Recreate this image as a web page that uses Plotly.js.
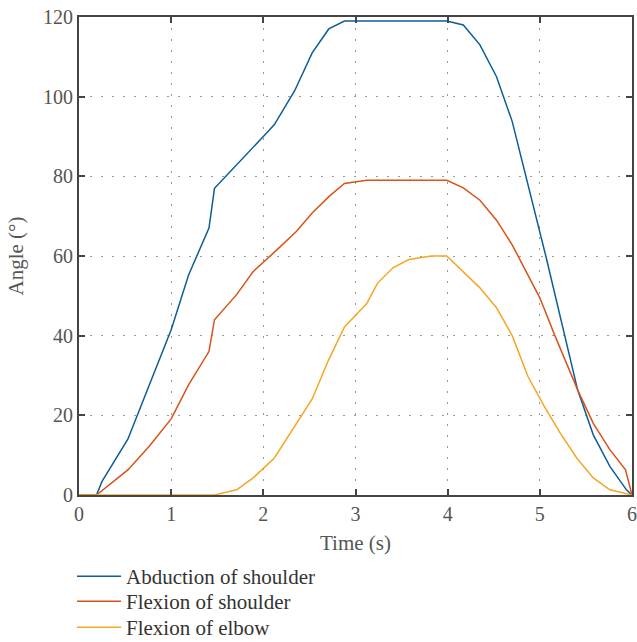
<!DOCTYPE html>
<html>
<head>
<meta charset="utf-8">
<script src="https://cdn.plot.ly/plotly-3.0.1.min.js"></script>
<style>html,body{margin:0;padding:0;background:#fff;}#chart{width:637px;height:642px;}</style>
</head>
<body>
<div id="chart"></div>
<script>
const seriesNames = ["Abduction of shoulder", "Flexion of shoulder", "Flexion of elbow"];

const abdTime = [0, 0.19, 0.25, 0.53, 1.0, 1.19, 1.41, 1.47, 2.0, 2.12, 2.34, 2.53, 2.71, 2.88, 3.99, 4.17, 4.35, 4.53, 4.70, 5.07, 5.41, 5.58, 5.76, 5.94, 6.0];
const abdAngle = [0, 0, 3.4, 14, 41.5, 55.3, 67, 77, 90, 93, 101.5, 111, 117, 119, 119, 118, 113, 105, 93.8, 59.5, 26.4, 15.1, 7.2, 1.3, 0];

const flexShTime = [0, 0.19, 0.53, 0.76, 1.0, 1.19, 1.41, 1.47, 1.71, 1.89, 2.15, 2.36, 2.53, 2.72, 2.88, 3.12, 3.99, 4.17, 4.35, 4.53, 4.70, 5.0, 5.16, 5.41, 5.58, 5.76, 5.93, 6.0];
const flexShAngle = [0, 0, 6.3, 12.2, 19.1, 27.7, 36, 44, 50.3, 56.1, 61.6, 66.2, 70.8, 75.1, 78.2, 79, 79, 77.1, 74, 69, 62.8, 49.5, 40.2, 26.4, 18, 11.4, 6.3, 0];

const flexElTime = [0, 1.47, 1.71, 1.89, 2.12, 2.29, 2.53, 2.71, 2.88, 3.12, 3.24, 3.41, 3.58, 3.82, 3.99, 4.35, 4.53, 4.70, 4.87, 5.05, 5.22, 5.40, 5.58, 5.76, 6.0];
const flexElAngle = [0, 0, 1.3, 4.3, 9.3, 15.5, 24.1, 34, 42.2, 48, 53.2, 57.1, 59.1, 60, 60, 52, 47, 40, 29.8, 22.2, 15.6, 9.3, 4.3, 1.3, 0];

const xTicks = [0, 1, 2, 3, 4, 5, 6];
const yTicks = [0, 20, 40, 60, 80, 100, 120];

const colors = ["#0B5E9A", "#D95319", "#F5A623"];
const font = "Liberation Serif";
const legendIds = ["legend", "legend2", "legend3"];
const legendY = [-0.1276, -0.1799, -0.2343];

const traces = [
  {x: abdTime, y: abdAngle, name: seriesNames[0]},
  {x: flexShTime, y: flexShAngle, name: seriesNames[1]},
  {x: flexElTime, y: flexElAngle, name: seriesNames[2]}
].map((t, i) => Object.assign(t, {type: "scatter", mode: "lines", legend: legendIds[i], line: {color: colors[i], width: 1.5}}));

const axisCommon = {
  showline: true, linewidth: 2, linecolor: "#444", mirror: "ticks",
  ticks: "inside", ticklen: 6, tickwidth: 2, tickcolor: "#444",
  showgrid: true, gridcolor: "#999", gridwidth: 1, griddash: "2px,9px",
  zeroline: false,
  tickfont: {family: font, size: 20, color: "#555"}
};

const layout = {
  width: 637, height: 642,
  margin: {l: 79, r: 5, t: 17, b: 147, autoexpand: false},
  paper_bgcolor: "#fff", plot_bgcolor: "#fff",
  font: {family: font, color: "#555"},
  xaxis: Object.assign({}, axisCommon, {
    range: [0, 6], tickvals: xTicks, ticktext: xTicks.map(String),
    title: {text: "Time (s)", font: {family: font, size: 21, color: "#555"}, standoff: 11}
  }),
  yaxis: Object.assign({}, axisCommon, {
    range: [0, 120], tickvals: yTicks, ticktext: yTicks.map(String),
    title: {text: "Angle (°)", font: {family: font, size: 21, color: "#555"}, standoff: 14}
  }),
  showlegend: true
};

legendIds.forEach((id, i) => {
  layout[id] = {
    x: -0.0126, y: legendY[i], xanchor: "left", yanchor: "top",
    font: {family: font, size: 21, color: "#333"},
    itemwidth: 44, bgcolor: "rgba(0,0,0,0)"
  };
});

Plotly.newPlot("chart", traces, layout, {displayModeBar: false, staticPlot: true});
</script>
</body>
</html>
